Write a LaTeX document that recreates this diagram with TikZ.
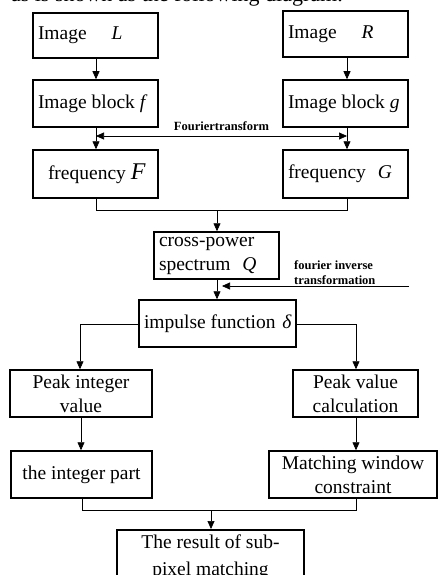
\documentclass[tikz,border=0pt]{standalone}
\usepackage{fontspec}
\setmainfont{Liberation Serif}
\usetikzlibrary{arrows.meta}
\tikzset{
  box/.style={draw, line width=1.5pt, inner sep=0pt, minimum height=47pt, align=center,
    font=\fontsize{19.5}{24}\selectfont},
  conn/.style={line width=0.7pt},
  arr/.style={conn, -{Triangle[length=8pt,width=7pt]}},
  darr/.style={conn, {Triangle[length=8pt,width=7pt]}-{Triangle[length=8pt,width=7pt]}},
  lbl/.style={font=\fontsize{12.5}{15}\selectfont\bfseries, inner sep=0pt, align=left}
}
\begin{document}
\begin{tikzpicture}[x=1pt, y=-1pt]
\useasboundingbox (0,0) rectangle (438,575);
\clip (0,0) rectangle (438,575);
\node[anchor=base east, inner sep=0pt, font=\fontsize{22}{26}\selectfont] (top) at (343,1.5) {as is shown as the following diagram.};
% boxes
\node[box, minimum width=125pt, minimum height=45pt] (imgL) at (95.5,35.5) {\makebox[115pt][l]{Image\hspace{25pt}\textit{L}}};
\node[box, minimum width=125pt, minimum height=46pt] (imgR) at (345.5,34) {\makebox[115pt][l]{Image\hspace{25pt}\textit{R}}};
\node[box, minimum width=125pt] (blkf) at (95.5,103.5) {\makebox[115pt][l]{Image block \textit{f}}};
\node[box, minimum width=125pt] (blkg) at (345.5,103.5) {\makebox[115pt][l]{Image block \textit{g}}};
\node[box, minimum width=125pt, minimum height=48pt] (freqF) at (95.5,174) {\makebox[115pt][l]{\hspace{10pt}frequency {\fontsize{24}{24}\selectfont\textit{F}}}};
\node[box, minimum width=125pt, minimum height=48pt] (freqG) at (345.5,174) {\makebox[115pt][l]{frequency\hspace{12pt}\textit{G}}};
\node[box, minimum width=125pt] (cross) at (216.5,255.5) {\makebox[115pt][l]{cross-power}\\\makebox[115pt][l]{spectrum\hspace{12pt}\textit{Q}}};
\node[box, minimum width=157pt] (imp) at (217.5,323.5) {\makebox[147pt][l]{impulse function \hspace{2pt}\textit{δ}}};
\node[box, minimum width=142pt] (pint) at (81,393.5) {Peak integer\\value};
\node[box, minimum width=125pt] (pval) at (355.5,393.5) {Peak value\\calculation};
\node[box, minimum width=141pt] (ipart) at (81.5,474.5) {the integer part};
\node[box, minimum width=187pt, anchor=north, inner ysep=0pt] (res) at (210.5,529) {\rule{0pt}{19pt}The result of sub-\\[3pt]pixel matching\rule[-22pt]{0pt}{22pt}};
\node[box, minimum width=168pt] (match) at (353,474.5) {Matching window\\constraint};
% coordinates
\coordinate (jF) at (96,210);
\coordinate (jG) at (347,210);
\coordinate (jQ) at (217,210);
\coordinate (ftL) at (96,136);
\coordinate (ftR) at (347,136);
\coordinate (invS) at (409,286);
\coordinate (invE) at (222,286);
\coordinate (iL) at (80,324);
\coordinate (iR) at (356,324);
\coordinate (jI) at (82,510);
\coordinate (jM) at (356,510);
\coordinate (jR) at (211,510);
% connectors
\draw[arr] (imgL.south -| ftL) -- (blkf.north -| ftL);
\draw[arr] (imgR.south -| ftR) -- (blkg.north -| ftR);
\draw[arr] (blkf.south -| ftL) -- (freqF.north -| ftL);
\draw[arr] (blkg.south -| ftR) -- (freqG.north -| ftR);
\draw[darr] (ftL) -- node[lbl, above=5pt] (ftlab) {Fouriertransform} (ftR);
\draw[conn] (freqF.south -| jF) -- (jF) -- (jG) -- (freqG.south -| jG);
\draw[arr] (jQ) -- (cross.north -| jQ);
\draw[arr] (cross.south -| jQ) -- (imp.north -| jQ);
\draw[arr] (invS) -- (invE);
\node[lbl, anchor=base west] (invlab) at (294,284) {fourier inverse\\transformation};
\draw[arr] (imp.west |- iL) -- (iL) -- (pint.north -| iL);
\draw[arr] (imp.east |- iR) -- (iR) -- (pval.north -| iR);
\draw[arr] (pint.south -| 81,0) -- (ipart.north -| 81,0);
\draw[arr] (pval.south -| iR) -- (match.north -| iR);
\draw[conn] (ipart.south -| jI) -- (jI) -- (jM) -- (match.south -| jM);
\draw[arr] (jR) -- (res.north -| jR);
\end{tikzpicture}
\end{document}
